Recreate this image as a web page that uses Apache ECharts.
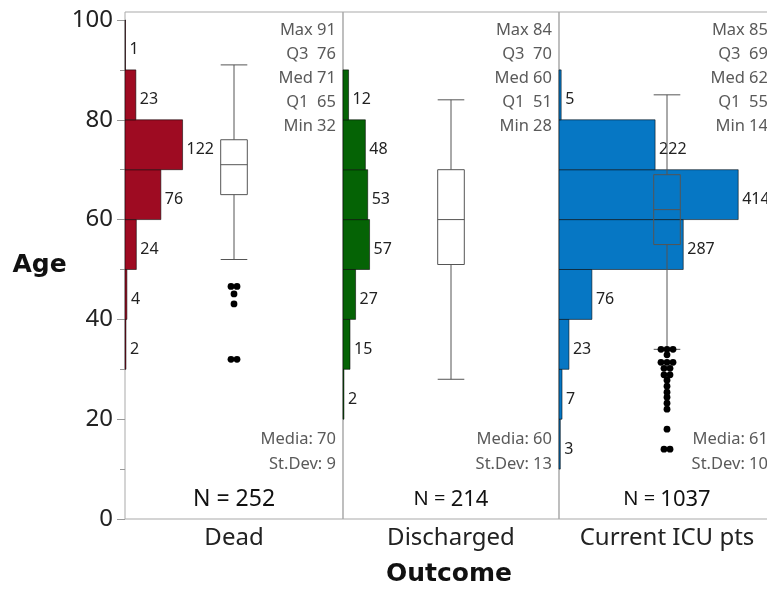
<!DOCTYPE html>
<html><head><meta charset="utf-8">
<script src="https://cdn.jsdelivr.net/npm/echarts@6/dist/echarts.min.js"></script>
<style>html,body{margin:0;padding:0;background:#fff}#c{width:767px;height:589px}</style>
</head><body><div id="c"></div>
<script>
// ---------- data ----------
const outcomes = ['Dead', 'Discharged', 'Current ICU pts'];
const binStarts = [10, 20, 30, 40, 50, 60, 70, 80, 90];
const binWidth = 10;
const deadCounts       = [0, 0, 2, 4, 24, 76, 122, 23, 1];
const dischargedCounts = [0, 2, 15, 27, 57, 53, 48, 12, 0];
const icuCounts        = [3, 7, 23, 76, 287, 414, 222, 5, 0];
// whisker low, Q1, median, Q3, whisker high
const deadBox       = [52, 65, 71, 76, 91];
const dischargedBox = [28, 51, 60, 70, 84];
const icuBox        = [34, 55, 62, 69, 85];
const deadOutliers       = [46.6, 46.6, 45.1, 43.1, 32, 32];
const dischargedOutliers = [];
const icuOutliers = [34, 34, 34, 32.9, 31.4, 31.4, 31.4, 30.2, 30.2, 28.9, 28.9, 27.8, 26.6, 25.4, 24.4, 23.2, 22, 18, 14, 14];
// Max, Q3, Med, Q1, Min
const deadStats       = [91, 76, 71, 65, 32];
const dischargedStats = [84, 70, 60, 51, 28];
const icuStats        = [85, 69, 62, 55, 14];
const means  = [70, 60, 61];
const stdevs = [9, 13, 10];
const ns     = [252, 214, 1037];
const yTicks = [0, 20, 40, 60, 80, 100];
const yMinorTicks = [10, 30, 50, 70, 90];

// ---------- layout / style ----------
const panelLeft  = [125, 343, 559];
const panelWidth = [218, 216, 216];
const histAxisMax = [462, 463.5, 499];
const colors = ['#9e0b22', '#056305', '#0677c4'];
const FONT = '"Noto Sans", "Open Sans", sans-serif';
const countsList = [deadCounts, dischargedCounts, icuCounts];
const boxList = [deadBox, dischargedBox, icuBox];
const outList = [deadOutliers, dischargedOutliers, icuOutliers];
const statsList = [deadStats, dischargedStats, icuStats];

const grids = [], xAxes = [], yAxes = [], series = [];
for (let i = 0; i < 3; i++) {
  grids.push({left: panelLeft[i], top: 12, width: panelWidth[i], height: 507, show: true,
    outerBoundsMode: 'none', containLabel: false,
    borderColor: '#a9a9a9', borderWidth: 1, backgroundColor: 'transparent'});
  xAxes.push({type: 'value', gridIndex: i, min: 0, max: histAxisMax[i],
    axisLine: {show: false}, axisTick: {show: false}, axisLabel: {show: false}, splitLine: {show: false},
    name: outcomes[i], nameLocation: 'middle', nameGap: 7,
    nameTextStyle: {fontSize: 24, fontFamily: FONT, color: '#222'}});
  yAxes.push({type: 'value', gridIndex: i, min: 0, max: 101.6, position: 'left',
    axisLine: {show: false}, splitLine: {show: false},
    axisTick: {show: i === 0, length: 8, customValues: yTicks, lineStyle: {color: '#999'}},
    axisLabel: {show: i === 0, customValues: yTicks, margin: 12, fontSize: 24, fontFamily: FONT, color: '#222'}});
}
// minor ticks axis
yAxes.push({type: 'value', gridIndex: 0, min: 0, max: 101.6, position: 'left',
  axisLine: {show: false}, splitLine: {show: false}, axisLabel: {show: false},
  axisTick: {show: true, length: 5, customValues: yMinorTicks, lineStyle: {color: '#999'}}});

for (let i = 0; i < 3; i++) {
  const color = colors[i];
  // histogram
  const hdata = [];
  countsList[i].forEach((c, k) => { if (c > 0) hdata.push([binStarts[k], c]); });
  series.push({
    type: 'custom', xAxisIndex: i, yAxisIndex: i, data: hdata, z: 2,
    renderItem: function (params, api) {
      const b = api.value(0), c = api.value(1);
      const p0 = api.coord([0, b + binWidth]);
      const p1 = api.coord([c, b]);
      return {type: 'group', children: [
        {type: 'rect', shape: {x: p0[0], y: p0[1], width: p1[0] - p0[0], height: p1[1] - p0[1]},
          style: {fill: color, stroke: 'rgba(0,0,0,0.55)', lineWidth: 1}},
        {type: 'text', style: {text: String(c), x: p1[0] + 4, y: (p0[1] + p1[1]) / 2 + 5,
          fill: '#222', font: '16px ' + FONT, align: 'left', verticalAlign: 'middle'}}
      ]};
    }
  });
  // box plot
  const xc = histAxisMax[i] / 2;
  series.push({
    type: 'custom', xAxisIndex: i, yAxisIndex: i, z: 5,
    data: [[xc].concat(boxList[i])],
    renderItem: function (params, api) {
      const x = api.value(0);
      const pts = [1, 2, 3, 4, 5].map(k => api.coord([x, api.value(k)]));
      const cx = pts[0][0], hw = 13.3;
      const ls = {stroke: '#555', lineWidth: 1, fill: null};
      return {type: 'group', children: [
        {type: 'line', shape: {x1: cx, y1: pts[0][1], x2: cx, y2: pts[1][1]}, style: ls},
        {type: 'line', shape: {x1: cx, y1: pts[3][1], x2: cx, y2: pts[4][1]}, style: ls},
        {type: 'line', shape: {x1: cx - hw, y1: pts[0][1], x2: cx + hw, y2: pts[0][1]}, style: ls},
        {type: 'line', shape: {x1: cx - hw, y1: pts[4][1], x2: cx + hw, y2: pts[4][1]}, style: ls},
        {type: 'rect', shape: {x: cx - hw, y: pts[3][1], width: 2 * hw, height: pts[1][1] - pts[3][1]}, style: ls},
        {type: 'line', shape: {x1: cx - hw, y1: pts[2][1], x2: cx + hw, y2: pts[2][1]}, style: ls}
      ]};
    }
  });
  // outliers (duplicates spread horizontally)
  const groups = {};
  outList[i].forEach(v => { groups[v] = (groups[v] || 0) + 1; });
  const odata = [];
  Object.keys(groups).forEach(v => {
    const n = groups[v];
    for (let k = 0; k < n; k++) odata.push([xc, Number(v), k - (n - 1) / 2]);
  });
  series.push({
    type: 'custom', xAxisIndex: i, yAxisIndex: i, z: 6, data: odata,
    renderItem: function (params, api) {
      const p = api.coord([api.value(0), api.value(1)]);
      return {type: 'circle', shape: {cx: p[0] + api.value(2) * 6, cy: p[1], r: 3.4}, style: {fill: '#000'}};
    }
  });
  // annotations
  const st = statsList[i];
  series.push({
    type: 'custom', xAxisIndex: i, yAxisIndex: i, z: 7, data: [[histAxisMax[i], 0]],
    renderItem: function (params, api) {
      const br = api.coord([api.value(0), 0]);
      const tl = api.coord([0, 100]);
      const right = br[0] - 7, bottom = br[1], top = tl[1];
      const lines = ['Max ' + st[0], 'Q3  ' + st[1], 'Med ' + st[2], 'Q1  ' + st[3], 'Min ' + st[4]];
      const gray = '#5a5a5a';
      const ch = lines.map((t, k) => ({type: 'text', style: {text: t, x: right, y: top + 10 + k * 24.2,
        fill: gray, font: '16.5px ' + FONT, align: 'right', verticalAlign: 'middle'}}));
      ch.push({type: 'text', style: {text: 'Media: ' + means[i], x: right, y: bottom - 80,
        fill: gray, font: '16.5px ' + FONT, align: 'right', verticalAlign: 'middle'}});
      ch.push({type: 'text', style: {text: 'St.Dev: ' + stdevs[i], x: right, y: bottom - 55,
        fill: gray, font: '16.5px ' + FONT, align: 'right', verticalAlign: 'middle'}});
      const midx = (tl[0] + br[0]) / 2;
      const small = i === 0 ? 23 : 20;
      const big = i === 0 ? 23 : 22;
      ch.push({type: 'text', style: {text: '{a|N = }{b|' + ns[i] + '}', x: midx, y: bottom - 19.5,
        align: 'center', verticalAlign: 'middle',
        rich: {a: {fontSize: small, fontFamily: FONT, fill: '#111', color: '#111'},
               b: {fontSize: big, fontFamily: FONT, fill: '#111', color: '#111'}}}});
      return {type: 'group', children: ch};
    }
  });
}

const chart = echarts.init(document.getElementById('c'), null, {renderer: 'canvas'});
chart.setOption({
  animation: false,
  backgroundColor: '#fff',
  grid: grids, xAxis: xAxes, yAxis: yAxes, series: series,
  graphic: [
    {type: 'text', x: 39.5, y: 265, style: {text: 'Age', font: 'bold 25px "DejaVu Sans"', fill: '#111', align: 'center', verticalAlign: 'middle'}},
    {type: 'text', x: 449, y: 574, style: {text: 'Outcome', font: 'bold 25px "DejaVu Sans"', fill: '#111', align: 'center', verticalAlign: 'middle'}}
  ]
});
</script></body></html>
